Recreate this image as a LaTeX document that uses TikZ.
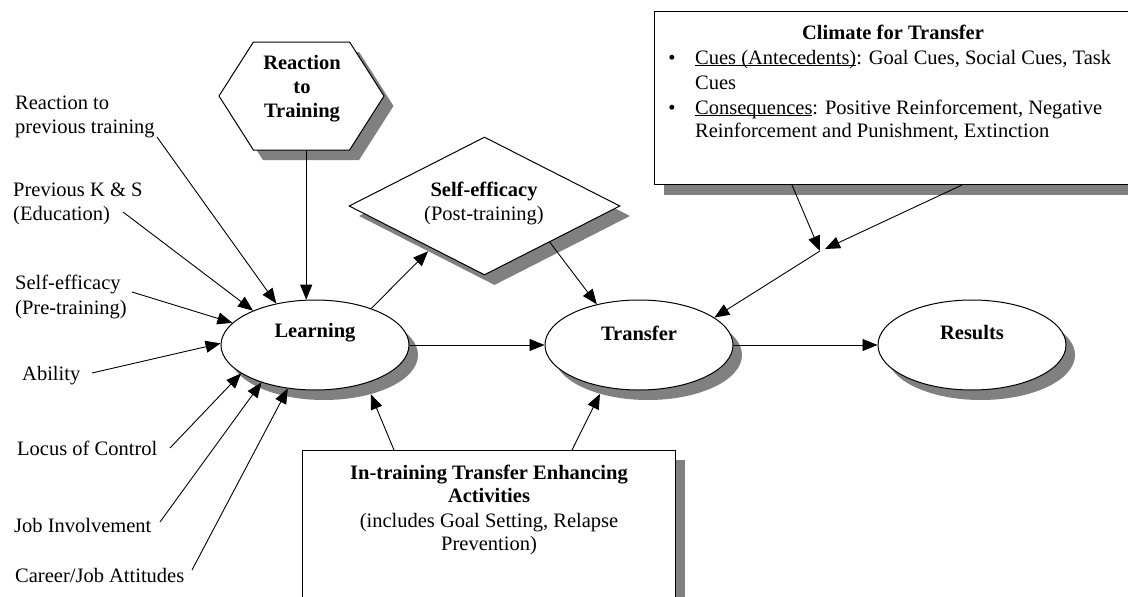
\documentclass[tikz,border=0pt]{standalone}
\usepackage{fontspec}
\setmainfont{Liberation Serif}
\usetikzlibrary{arrows.meta,shapes.geometric,shapes.symbols}
\definecolor{shade}{HTML}{808080}
% underline set close to the baseline
\newcommand{\ulclose}[1]{\underline{\smash{#1}}}
\begin{document}
\begin{tikzpicture}[x=1pt,y=-1pt,
  txt/.style={inner sep=0pt, anchor=base, font=\fontsize{20.5}{24}\selectfont},
  txtl/.style={txt, anchor=base west},
  bld/.style={txt, font=\fontsize{20.5}{24}\selectfont\bfseries},
  ell/.style={ellipse, draw, line width=1pt, fill=white, minimum width=188pt, minimum height=90pt, inner sep=0pt},
  ellshade/.style={ellipse, fill=shade, minimum width=188pt, minimum height=90pt, inner sep=0pt},
  dia/.style={diamond, minimum width=271pt, minimum height=138pt, inner sep=0pt},
  hexa/.style={signal, signal to=west and east, signal pointer angle=115, minimum width=165pt, minimum height=108pt, inner sep=0pt},
  box/.style={rectangle, inner sep=0pt, anchor=north west},
  arr/.style={line width=0.9pt, -{Triangle[length=15pt,width=12pt]}},
  ]
\useasboundingbox (0,0) rectangle (1128,597);
\clip (0,0) rectangle (1128,597);
\fill[white] (0,0) rectangle (1128,597);

% ---- shadows ----
\node[hexa, fill=shade] (hexS) at (311,106) {};
\node[dia, fill=shade] (diaS) at (494.5,216) {};
\node[ellshade] (learnS) at (324,355) {};
\node[ellshade] (transS) at (648,355) {};
\node[ellshade] (resS) at (981,355) {};
\node[box, fill=shade, minimum width=490pt, minimum height=173pt] (climS) at (664,22) {};
\node[box, fill=shade, minimum width=373pt, minimum height=200pt] (itbS) at (312,460) {};

% ---- shapes ----
\node[hexa, draw, line width=1pt, fill=white] (hex) at (301.5,96) {};
\node[dia, draw, line width=1pt, fill=white] (dia) at (484.5,206) {};
\node[ell] (learn) at (315,345) {};
\node[ell] (trans) at (639,345) {};
\node[ell] (res) at (972,345) {};
\node[box, draw, line width=1pt, fill=white, minimum width=490pt, minimum height=173pt] (clim) at (654,11) {};
\node[box, draw, line width=1pt, fill=white, minimum width=373pt, minimum height=200pt] (itb) at (302,450) {};

% ---- texts inside shapes ----
\node[bld] (hexT1) at (302,69) {Reaction};
\node[bld] (hexT2) at (302,93) {to};
\node[bld] (hexT3) at (302,117) {Training};
\node[bld] (diaT1) at (484,196) {Self-efficacy};
\node[txt] (diaT2) at (484,220) {(Post-training)};
\node[bld] (learnT) at (315,337) {Learning};
\node[bld] (transT) at (639,340) {Transfer};
\node[bld] (resT) at (972,339) {Results};

\node[bld] (climT) at (893,39) {Climate for Transfer};
\node[txt] (b1) at (672,64) {\textbullet};
\node[txt] (b2) at (672,114) {\textbullet};
\node[txtl] (climL1) at (695,64) {\ulclose{Cues (Antecedents)}: Goal Cues, Social Cues, Task};
\node[txtl] (climL2) at (695,89) {Cues};
\node[txtl] (climL3) at (695,114) {\ulclose{Consequences}: Positive Reinforcement, Negative};
\node[txtl] (climL4) at (695,137) {Reinforcement and Punishment, Extinction};

\node[bld] (itbT1) at (489,479) {In-training Transfer Enhancing};
\node[bld] (itbT2) at (489,502) {Activities};
\node[txt] (itbT3) at (489,527) {(includes Goal Setting, Relapse};
\node[txt] (itbT4) at (489,550) {Prevention)};

% ---- antecedent labels ----
\node[txtl] (rp1) at (15,109) {Reaction to};
\node[txtl] (rp2) at (15,133) {previous training};
\node[txtl] (ke1) at (13,196) {Previous K \& S};
\node[txtl] (ke2) at (13,220) {(Education)};
\node[txtl] (sp1) at (15,289) {Self-efficacy};
\node[txtl] (sp2) at (15,314) {(Pre-training)};
\node[txtl] (ab) at (22,380) {Ability};
\node[txtl] (lc) at (17,455) {Locus of Control};
\node[txtl] (ji) at (14,532) {Job Involvement};
\node[txtl] (cj) at (15,582) {Career/Job Attitudes};

% free ends of the antecedent connectors, beside their labels
\coordinate (rpE) at (157,137);
\coordinate (keE) at (123,212);
\coordinate (spE) at (132,292);
\coordinate (abE) at (92,373);
\coordinate (lcE) at (170,448);
\coordinate (jiE) at (160,522);
\coordinate (cjE) at (192,570);
% meeting point of the climate connectors
\coordinate (J) at (820,251);
\coordinate (J2) at (825,249);

% ---- connectors ----
\draw[arr] (rpE) -- (learn.133);
\draw[arr] (keE) -- (learn.151);
\draw[arr] (spE) -- (learn.165);
\draw[arr] (abE) -- (learn.179);
\draw[arr] (lcE) -- (learn.201);
\draw[arr] (jiE) -- (learn.215);
\draw[arr] (cjE) -- (learn.238);

\draw[arr] (learn.101 |- hex.south) -- (learn.101);
\draw[arr] (learn.33.5) -- (diaS.208);
\draw[arr] (dia.-29) -- (trans.136);
\draw[arr] (learn.east) -- (trans.west);
\draw[arr] (trans.east) -- (res.west);

\draw[arr] ([xshift=138pt]clim.south west) -- (J);
\draw[arr] ([xshift=308pt]clim.south west) -- (J2);
\draw[arr] (J) -- (trans.20);

\draw[arr] ([xshift=92pt]itb.north west) -- (learnS.-40);
\draw[arr] ([xshift=270pt]itb.north west) -- (transS.219);
\end{tikzpicture}
\end{document}
